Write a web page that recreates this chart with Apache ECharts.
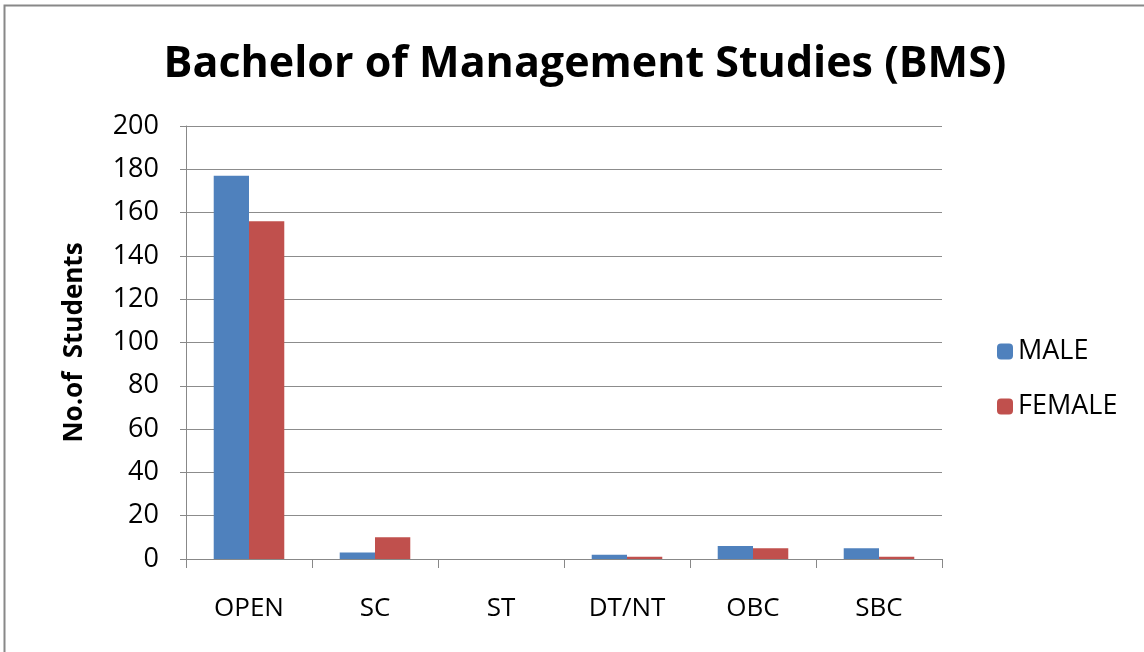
<!DOCTYPE html>
<html><head><meta charset="utf-8">
<script src="https://cdn.jsdelivr.net/npm/echarts@6/dist/echarts.min.js"></script>
<style>html,body{margin:0;padding:0;background:#fff}#c{width:1144px;height:652px}</style>
</head><body><div id="c"></div>
<script>
const categories = ['OPEN', 'SC', 'ST', 'DT/NT', 'OBC', 'SBC'];
const male = [177, 3, 0, 2, 6, 5];
const female = [156, 10, 0, 1, 5, 1];
const yTicks = [0, 20, 40, 60, 80, 100, 120, 140, 160, 180, 200];
const FONT = '"Open Sans", Lato, sans-serif';
const chart = echarts.init(document.getElementById('c'));
chart.setOption({
  animation: false,
  backgroundColor: '#fff',
  title: {
    text: 'Bachelor of Management Studies (BMS)',
    left: 580, top: 38, textAlign: 'center',
    textStyle: { fontFamily: FONT, fontSize: 43, fontWeight: 'bold', color: '#000' }
  },
  graphic: [{
    type: 'polyline', shape: { points: [[4.5, 660], [4.5, 5.5], [1150, 5.5]] },
    style: { stroke: '#888', lineWidth: 2, fill: null }
  }],
  legend: {
    orient: 'vertical', left: 992, top: 333, itemGap: 28,
    itemWidth: 16, itemHeight: 16,
    textStyle: { fontFamily: FONT, fontSize: 27, color: '#000' },
    data: ['MALE', 'FEMALE']
  },
  grid: { left: 186, top: 126, width: 756, height: 433, containLabel: false },
  xAxis: {
    type: 'category', data: categories,
    axisLine: { lineStyle: { color: '#888', width: 1 } },
    axisTick: { show: true, length: 9, lineStyle: { color: '#888' } },
    axisLabel: { fontFamily: FONT, fontSize: 26, color: '#000', margin: 37 }
  },
  yAxis: {
    type: 'value', min: yTicks[0], max: yTicks[yTicks.length - 1], interval: 20,
    name: 'No.of  Students', nameLocation: 'middle', nameGap: 98,
    nameTextStyle: { fontFamily: FONT, fontSize: 26, fontWeight: 'bold', color: '#000' },
    axisLine: { show: true, lineStyle: { color: '#888' } },
    axisTick: { show: true, length: 6, lineStyle: { color: '#888' } },
    axisLabel: { fontFamily: FONT, fontSize: 27, color: '#000', margin: 27 },
    splitLine: { lineStyle: { color: '#8c8c8c', width: 1 } }
  },
  series: [
    { name: 'MALE', type: 'bar', data: male, barGap: '0%', barCategoryGap: '44%',
      itemStyle: { color: '#4f81bd' } },
    { name: 'FEMALE', type: 'bar', data: female, barGap: '0%', barCategoryGap: '44%',
      itemStyle: { color: '#c0504d' } }
  ]
});
</script></body></html>
